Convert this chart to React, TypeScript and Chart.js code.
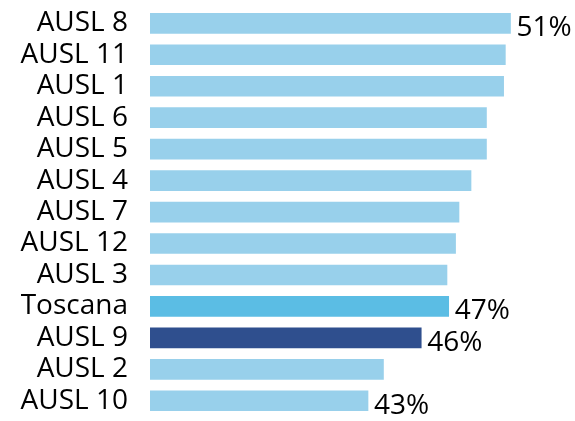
import React, { useEffect, useRef } from "react";
import { Chart, registerables } from "chart.js";

Chart.register(...registerables);

// Health districts, sorted from highest to lowest share
const areas = [
  "AUSL 8", "AUSL 11", "AUSL 1", "AUSL 6", "AUSL 5", "AUSL 4", "AUSL 7",
  "AUSL 12", "AUSL 3", "Toscana", "AUSL 9", "AUSL 2", "AUSL 10",
];
const shares = [51.0, 50.7, 50.6, 49.6, 49.6, 48.7, 48.0, 47.8, 47.3, 47.4, 45.8, 43.6, 42.7];
// Which bars get a percentage label next to them
const labelled = ["AUSL 8", "Toscana", "AUSL 9", "AUSL 10"];

const LIGHT = "#98d0eb";
const REGION = "#5bbde4";
const HIGHLIGHT = "#2f4f8e";

const FONT = "'Open Sans', sans-serif";

const barColors = areas.map((a) =>
  a === "Toscana" ? REGION : a === "AUSL 9" ? HIGHLIGHT : LIGHT
);

const valueLabels = {
  id: "valueLabels",
  afterDatasetsDraw(chart: any) {
    const ctx = chart.ctx;
    const meta = chart.getDatasetMeta(0);
    ctx.save();
    ctx.font = `28px ${FONT}`;
    ctx.fillStyle = "#000";
    ctx.textAlign = "left";
    ctx.textBaseline = "middle";
    meta.data.forEach((bar: any, i: number) => {
      if (!labelled.includes(areas[i])) return;
      const text = `${Math.round(shares[i])}%`;
      ctx.fillText(text, bar.x + 6, bar.y + 5);
    });
    ctx.restore();
  },
};

export default function App() {
  const canvasRef = useRef<HTMLCanvasElement>(null);

  useEffect(() => {
    document.body.style.margin = "0";
    const chart = new Chart(canvasRef.current!, {
      type: "bar",
      data: {
        labels: areas,
        datasets: [
          {
            data: shares,
            backgroundColor: barColors,
            borderWidth: 0,
            barThickness: 20,
          },
        ],
      },
      options: {
        indexAxis: "y",
        animation: false,
        responsive: false,
        layout: { padding: { top: 7.6, bottom: 4.5, right: 13, left: 0 } },
        plugins: {
          legend: { display: false },
          tooltip: { enabled: false },
        },
        scales: {
          x: {
            display: false,
            min: 30,
            max: 54,
          },
          y: {
            grid: { display: false, drawTicks: false },
            border: { display: false },
            ticks: {
              color: "#000",
              padding: 22,
              autoSkip: false,
              font: { family: FONT, size: 28 },
            },
            afterFit(scale: any) {
              scale.width = 150;
              scale.paddingTop = 0;
              scale.paddingBottom = 0;
            },
          },
        },
      },
      plugins: [valueLabels],
    });
    return () => chart.destroy();
  }, []);

  return (
    <div style={{ width: 575, height: 421 }}>
      <canvas ref={canvasRef} width={575} height={421} />
    </div>
  );
}
